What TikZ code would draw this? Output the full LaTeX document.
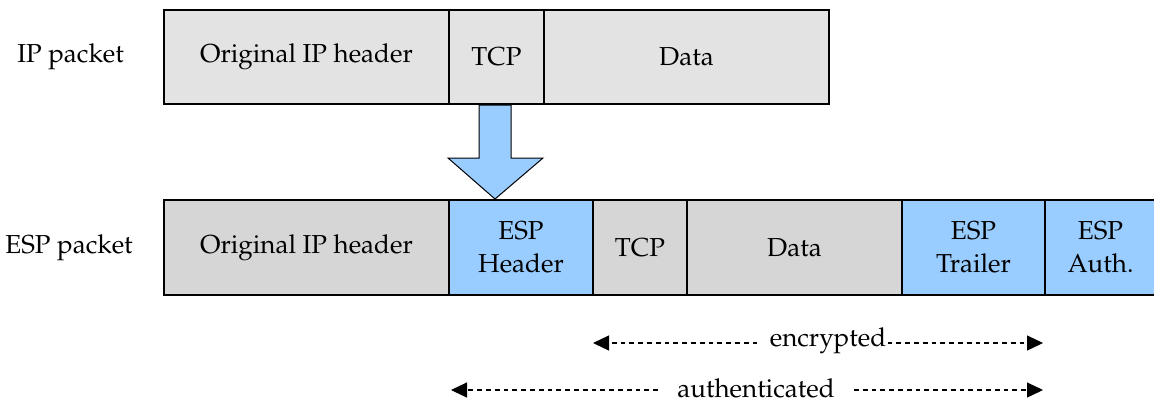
\documentclass[tikz,border=0pt]{standalone}
\usepackage[T1]{fontenc}
\usepackage{mathpazo}
\usetikzlibrary{arrows.meta}
\definecolor{topgray}{HTML}{E3E3E3}
\definecolor{botgray}{HTML}{D6D6D6}
\definecolor{espblue}{HTML}{99CCFF}
\begin{document}
\begin{tikzpicture}[x=0.5pt,y=-0.5pt,
  cell/.style={draw=black,line width=1pt,inner sep=0pt,outer sep=0pt,anchor=north west,
    align=center,font=\fontsize{13}{16.5}\selectfont,minimum height=47pt},
  lbl/.style={font=\fontsize{13}{16.5}\selectfont,inner sep=0pt},
  darrow/.style={line width=0.6pt,dash pattern=on 2.4pt off 2pt,-{Triangle[length=8pt,width=7.5pt]}}]
\useasboundingbox (0,0) rectangle (1154,403);
\clip (0,0) rectangle (1154,403);
% labels
\node[lbl,anchor=west] (lip) at (17,57) {IP packet};
\node[lbl,anchor=west] (lesp) at (5,248) {ESP packet};
% top row
\node[cell,fill=topgray,minimum width=142.5pt] (ip1) at (164,10) {Original IP header};
\node[cell,fill=topgray,minimum width=47.5pt] (ip2) at (449,10) {TCP};
\node[cell,fill=topgray,minimum width=142.5pt] (ip3) at (544,10) {Data};
% bottom row
\node[cell,fill=botgray,minimum width=142.5pt,minimum height=47.5pt] (e1) at (164,200) {Original IP header};
\node[cell,fill=espblue,minimum width=72pt,minimum height=47.5pt] (e2) at (449,200) {ESP\\Header};
\node[cell,fill=botgray,minimum width=47pt,minimum height=47.5pt] (e3) at (593,200) {TCP};
\node[cell,fill=botgray,minimum width=107.5pt,minimum height=47.5pt] (e4) at (687,200) {Data};
\node[cell,fill=espblue,minimum width=71.5pt,minimum height=47.5pt] (e5) at (902,200) {ESP\\Trailer};
\node[cell,fill=espblue,minimum width=55.5pt,minimum height=47.5pt] (e6) at (1045,200) {ESP\\Auth.};
% big arrow
\draw[fill=espblue,draw=black,line width=0.5pt]
  (479,105) -- (511,105) -- (511,158) -- (543,158) -- (495,199) -- (448,158) -- (479,158) -- cycle;
% encrypted
\node[lbl] (enc) at (828,341) {encrypted};
\coordinate (encL) at (593,343);
\coordinate (encR) at (1043,343);
\draw[darrow] ([xshift=-6pt,yshift=-1pt]enc.west) -- (encL);
\draw[darrow] ([xshift=0.5pt,yshift=-1pt]enc.east) -- (encR);
% authenticated
\node[lbl] (auth) at (756,388) {authenticated};
\coordinate (authL) at (451,390);
\coordinate (authR) at (1043,390);
\draw[darrow] ([xshift=-9.5pt,yshift=-1pt]auth.west) -- (authL);
\draw[darrow] ([xshift=9.5pt,yshift=-1pt]auth.east) -- (authR);
\end{tikzpicture}
\end{document}
